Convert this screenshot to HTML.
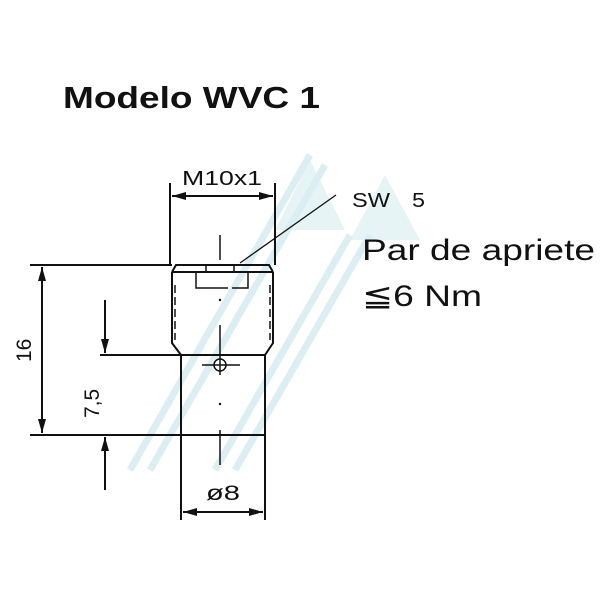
<!DOCTYPE html>
<html><head><style>
html,body{margin:0;padding:0;background:#fff;}
svg{display:block;}
text{font-family:"Liberation Sans",sans-serif;fill:#111;}
</style></head><body>
<svg width="600" height="600" viewBox="0 0 600 600">
<g stroke="#d8eef2" stroke-width="7" fill="none" opacity="0.9">
<line x1="130" y1="470" x2="310" y2="155"/>
<line x1="150" y1="470" x2="325" y2="165"/>
<line x1="215" y1="470" x2="350" y2="235"/>
<line x1="235" y1="470" x2="370" y2="235"/>
</g>
<polygon points="310,160 345,230 275,230" fill="#dceff2" opacity="0.7"/>
<polygon points="385,175 420,240 350,240" fill="#dceff2" opacity="0.7"/>
<text x="63" y="108" font-size="31" font-weight="bold" textLength="257" lengthAdjust="spacingAndGlyphs">Modelo WVC 1</text>
<g stroke="#111" stroke-width="2" fill="none">
<line x1="170" y1="183" x2="170" y2="265"/>
<line x1="275" y1="183" x2="275" y2="265"/>
<line x1="172" y1="196" x2="273" y2="196"/>
<polyline points="172,272 172,343 181,355 265,355 273,343 273,272"/>
<line x1="172" y1="272" x2="273" y2="272"/>
<polyline points="172,272 176,265 269,265 273,272"/>
<line x1="181" y1="355" x2="181" y2="520"/>
<line x1="265" y1="355" x2="265" y2="520"/>
<line x1="183" y1="512" x2="263" y2="512"/>
<line x1="30" y1="265" x2="172" y2="265"/>
<line x1="100" y1="355" x2="181" y2="355"/>
<line x1="30" y1="435" x2="265" y2="435"/>
<line x1="42" y1="267" x2="42" y2="433"/>
<line x1="105" y1="300" x2="105" y2="353"/>
<line x1="105" y1="437" x2="105" y2="490"/>
<line x1="220" y1="235" x2="220" y2="260" stroke-width="1.5"/>
<line x1="220" y1="325" x2="220" y2="375" stroke-width="1.5"/>
<line x1="220" y1="430" x2="220" y2="465" stroke-width="1.5"/>
<line x1="202" y1="365" x2="240" y2="365" stroke-width="1.5"/>
<circle cx="220" cy="365" r="6" stroke-width="1.5"/>
<line x1="240" y1="263" x2="336" y2="195" stroke-width="1.3"/>
</g>
<g stroke="#111" stroke-width="1.5" fill="none">
<line x1="175" y1="285" x2="175" y2="340" stroke-dasharray="8,4"/>
<line x1="270" y1="285" x2="270" y2="340" stroke-dasharray="8,4"/>
<polyline points="196,272 196,288 212,288"/>
<polyline points="248,272 248,288 232,288"/>
<line x1="212" y1="288" x2="228" y2="288"/>
<line x1="206" y1="265" x2="206" y2="272"/><line x1="234" y1="265" x2="234" y2="272"/>
</g>
<g fill="#111">
<polygon points="172,196 186,192 186,200"/>
<polygon points="273,196 259,192 259,200"/>
<polygon points="183,512 197,508 197,516"/>
<polygon points="263,512 249,508 249,516"/>
<polygon points="42,267 38,281 46,281"/>
<polygon points="42,433 38,419 46,419"/>
<polygon points="105,353 101,339 109,339"/>
<polygon points="105,437 101,451 109,451"/>
<circle cx="220" cy="300" r="1.2"/><circle cx="220" cy="404" r="1.2"/>
</g>
<text x="182" y="185" font-size="20" textLength="80" lengthAdjust="spacingAndGlyphs">M10x1</text>
<text x="352" y="207" font-size="20" textLength="38" lengthAdjust="spacingAndGlyphs">SW</text>
<text x="412" y="207" font-size="20" textLength="13" lengthAdjust="spacingAndGlyphs">5</text>
<text x="362" y="260" font-size="30" textLength="233" lengthAdjust="spacingAndGlyphs">Par de apriete</text>
<text x="362" y="306" font-size="30" textLength="120" lengthAdjust="spacingAndGlyphs">≦6 Nm</text>
<text x="206" y="500" font-size="21" textLength="34" lengthAdjust="spacingAndGlyphs">ø8</text>
<text transform="translate(31,362) rotate(-90)" font-size="21">16</text>
<text transform="translate(99,418) rotate(-90)" font-size="21">7,5</text>
</svg>
</body></html>
